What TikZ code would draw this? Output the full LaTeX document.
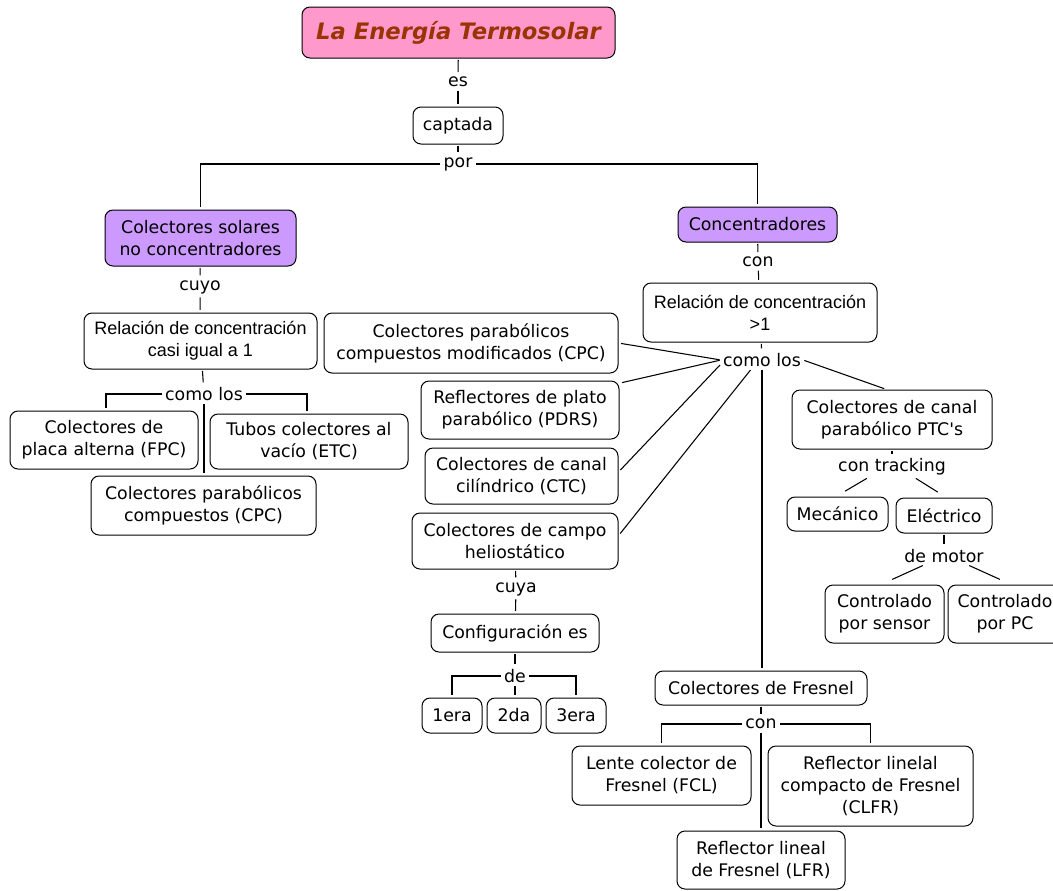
\documentclass[tikz,border=0pt]{standalone}
\usepackage{fontspec}
\setmainfont{DejaVu Sans}[Ligatures=TeXOff]
\newfontfamily\relfont{Liberation Sans}
\definecolor{titlefill}{RGB}{255,153,204}
\definecolor{titletext}{RGB}{153,51,0}
\definecolor{groupfill}{RGB}{204,153,255}
\begin{document}
\begin{tikzpicture}[x=0.75pt,y=-0.75pt,
  box/.style={draw=black, line width=0.75pt, rounded corners=6pt, align=center,
    inner sep=0pt, fill=white, font=\fontsize{13}{16.5}\selectfont},
  sz/.style 2 args={minimum width=#1*0.75pt, minimum height=#2*0.75pt},
  lbl/.style={inner sep=1.5pt, font=\fontsize{13}{16.5}\selectfont},
  conn/.style={draw=black, line width=0.8pt, shorten >=2pt, shorten <=1pt}]
\useasboundingbox (0,0) rectangle (1053,890);

% --- boxes ---
\node[box, fill=titlefill, sz={313}{51}, text=titletext,
  font=\fontsize{17}{20}\selectfont\bfseries\itshape] (title) at (458.5,32.5) {La Energía Termosolar};
\node[box, sz={90}{37}] (captada) at (458,125.5) {captada};
\node[box, fill=groupfill, sz={191}{56}] (colsol) at (200.5,238) {Colectores solares\\no concentradores};
\node[box, fill=groupfill, sz={159}{35}] (conc) at (757.5,224.5) {Concentradores};

\node[box, sz={233}{56}, font=\relfont\fontsize{13.5}{16.5}\selectfont] (rel1) at (200.5,341) {Relación de concentración\\casi igual a 1};
\node[box, sz={188}{58}] (fpc) at (104,440) {Colectores de\\placa alterna (FPC)};
\node[box, sz={198}{55}] (etc) at (309,441.5) {Tubos colectores al\\vacío (ETC)};
\node[box, sz={225}{59}] (cpc) at (203.5,505.5) {Colectores parabólicos\\compuestos (CPC)};

\node[box, sz={234}{59}, font=\relfont\fontsize{13.5}{16.5}\selectfont] (rel2) at (760,312.5) {Relación de concentración\\>1};
\node[box, sz={294}{60}] (cpcm) at (471,343) {Colectores parabólicos\\compuestos modificados (CPC)};
\node[box, sz={198}{58}] (pdrs) at (520,410) {Reflectores de plato\\parabólico (PDRS)};
\node[box, sz={193}{56}] (ctc) at (521.5,476) {Colectores de canal\\cilíndrico (CTC)};
\node[box, sz={206}{56}] (helio) at (515,541) {Colectores de campo\\heliostático};
\node[box, sz={200}{59}] (ptc) at (892,419.5) {Colectores de canal\\parabólico PTC's};
\node[box, sz={101}{34}] (mec) at (837.5,514) {Mecánico};
\node[box, sz={96}{35}] (elec) at (944,515.5) {Eléctrico};
\node[box, sz={119}{58}] (ctrls) at (884.5,614) {Controlado\\por sensor};
\node[box, sz={114}{58}] (ctrlpc) at (1005,614) {Controlado\\por PC};

\node[box, sz={168}{38}] (config) at (515,633) {Configuración es};
\node[box, sz={60}{35}] (era1) at (452,715.5) {1era};
\node[box, sz={54}{35}] (da2) at (514,715.5) {2da};
\node[box, sz={60}{35}] (era3) at (576,715.5) {3era};

\node[box, sz={212}{34}] (fresnel) at (761,688) {Colectores de Fresnel};
\node[box, sz={179}{59}] (fcl) at (661.5,775.5) {Lente colector de\\Fresnel (FCL)};
\node[box, sz={205}{80}] (clfr) at (870.5,786) {Reflector linelal\\compacto de Fresnel\\(CLFR)};
\node[box, sz={168}{58}] (lfr) at (761,860) {Reflector lineal\\de Fresnel (LFR)};

% --- linking phrases ---
\node[lbl] (es) at (458,82) {es};
\node[lbl] (por) at (458,164) {por};
\node[lbl] (cuyo) at (200,287) {cuyo};
\node[lbl] (comolos1) at (204,394) {como los};
\node[lbl] (con1) at (758,262) {con};
\node[lbl] (comolos2) at (762,360) {como los};
\node[lbl] (contrack) at (892,467) {con tracking};
\node[lbl] (demotor) at (944,556) {de motor};
\node[lbl] (cuya) at (516,589) {cuya};
\node[lbl] (de) at (515,676) {de};
\node[lbl] (con2) at (761,724) {con};

% --- connectors ---
\draw[conn] (title) -- (es);
\draw[conn] (es) -- (captada);
\draw[conn] (captada) -- (por);
\draw[conn] (por.west) -| (colsol.north);
\draw[conn] (por.east) -| (conc.north);

\draw[conn] (colsol) -- (cuyo);
\draw[conn] (cuyo) -- (rel1);
\draw[conn] (rel1) -- (comolos1);
\draw[conn] (comolos1.west) -| ([xshift=1.5pt]fpc.north);
\draw[conn] (comolos1.east) -| ([xshift=-1.5pt]etc.north);
\draw[conn] (comolos1.south) -- (comolos1.south |- cpc.north);

\draw[conn] (conc) -- (con1);
\draw[conn] (con1) -- (rel2);
\draw[conn] (rel2) -- (comolos2);
\draw[conn] (comolos2.west) -- (cpcm.east);
\draw[conn] (comolos2.west) -- ([yshift=-2pt]pdrs.north east);
\draw[conn] ([yshift=-3pt]comolos2.west) -- ([yshift=3pt]ctc.east);
\draw[conn] ([xshift=-8pt]comolos2.south) -- ([yshift=4pt]helio.east);
\draw[conn] (comolos2.east) -- ([xshift=-4pt]ptc.north);
\draw[conn] (comolos2.south) -- (comolos2.south |- fresnel.north);

\draw[conn] (ptc) -- (contrack);
\draw[conn] ([xshift=-18pt]contrack.south) -- ([xshift=4pt,yshift=3pt]mec.north);
\draw[conn] ([xshift=17pt]contrack.south) -- ([xshift=-3pt,yshift=3pt]elec.north);
\draw[conn] (elec) -- (demotor);
\draw[conn] ([xshift=-15pt]demotor.south) -- ([xshift=4pt,yshift=3pt]ctrls.north);
\draw[conn] ([xshift=18pt]demotor.south) -- ([xshift=-2pt,yshift=3pt]ctrlpc.north);

\draw[conn] (helio) -- (cuya);
\draw[conn] (cuya) -- (config);
\draw[conn] (config) -- (de);
\draw[conn] (de.west) -| (era1.north);
\draw[conn] (de.east) -| (era3.north);
\draw[conn] (de.south) -- (de.south |- da2.north);

\draw[conn] (fresnel) -- (con2);
\draw[conn] (con2.west) -| (fcl.north);
\draw[conn] (con2.east) -| (clfr.north);
\draw[conn] (con2.south) -- (con2.south |- lfr.north);
\end{tikzpicture}
\end{document}
